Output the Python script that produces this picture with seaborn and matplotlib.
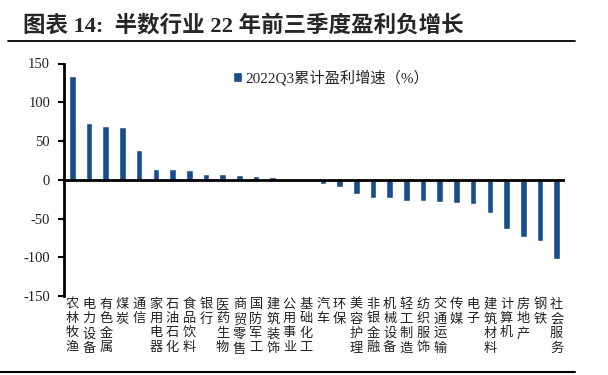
import matplotlib
matplotlib.use("Agg")
import matplotlib.pyplot as plt
from matplotlib.lines import Line2D
import seaborn as sns
import pandas as pd

categories = ["农林牧渔", "电力设备", "有色金属", "煤炭", "通信", "家用电器", "石油石化", "食品饮料",
              "银行", "医药生物", "商贸零售", "国防军工", "建筑装饰", "公用事业", "基础化工", "汽车",
              "环保", "美容护理", "非银金融", "机械设备", "轻工制造", "纺织服饰", "交通运输", "传媒",
              "电子", "建筑材料", "计算机", "房地产", "钢铁", "社会服务"]
values = [134.5, 73.0, 69.5, 68.0, 38.0, 14.0, 13.4, 13.0, 7.8, 7.3, 6.0, 4.7, 3.9, 2.0, 0.5,
          -5.6, -9.0, -18.5, -23.0, -23.0, -27.6, -28.0, -29.0, -29.5, -31.0, -43.5, -64.0, -74.0,
          -78.5, -101.8]
series_name = "2022Q3累计盈利增速（%）"
title = "图表 14:  半数行业 22 年前三季度盈利负增长"
yticks = [-150, -100, -50, 0, 50, 100, 150]

sns.set_style("white")
plt.rcParams["font.family"] = ["Liberation Serif", "Noto Sans CJK SC", "DejaVu Sans"]

df = pd.DataFrame({"cat": categories, "val": values})

fig = plt.figure(figsize=(6.08, 3.75), dpi=100)
ax = fig.add_axes([64 / 608, 1 - 296 / 375, 501 / 608, (296 - 63.5) / 375])

bar_color = "#174E8D"
sns.barplot(data=df, x="cat", y="val", order=categories, color=bar_color, saturation=1,
            width=0.4, ax=ax, label=series_name)

ax.set_xlim(-0.5, len(categories) - 0.5)
ax.set_ylim(-150, 150)
ax.set_yticks(yticks)
ax.set_yticklabels([str(v) for v in yticks], fontsize=10.5, color="#222222")
ax.set_xlabel("")
ax.set_ylabel("")
ax.set_xticks(range(len(categories)))
ax.set_xticklabels(["\n".join(c) for c in categories], fontsize=9.5, linespacing=1.25,
                   color="#222222")
ax.tick_params(axis="x", length=0, pad=2)
ax.tick_params(axis="y", direction="out", length=4, width=1.5, color="black", pad=6, left=True)

for s in ["top", "right", "bottom"]:
    ax.spines[s].set_visible(False)
ax.spines["left"].set_color("black")
ax.spines["left"].set_linewidth(2)
ax.axhline(0, color="black", lw=2, zorder=3)

leg = ax.legend(loc="upper left", bbox_to_anchor=(0.325, 1.0), frameon=False, fontsize=11,
                handlelength=0.6, handleheight=0.6, handletextpad=0.2, borderaxespad=0)

fig.text(23 / 608, 1 - 26 / 375, title, fontsize=16.2, fontweight="bold", va="center", ha="left")
fig.add_artist(Line2D([8 / 608, 575 / 608], [1 - 40.7 / 375] * 2, color="black", lw=1.3))
fig.add_artist(Line2D([0 / 608, 575 / 608], [1 - 372 / 375] * 2, color="black", lw=1.5))

fig.savefig("out.png", dpi=100)
